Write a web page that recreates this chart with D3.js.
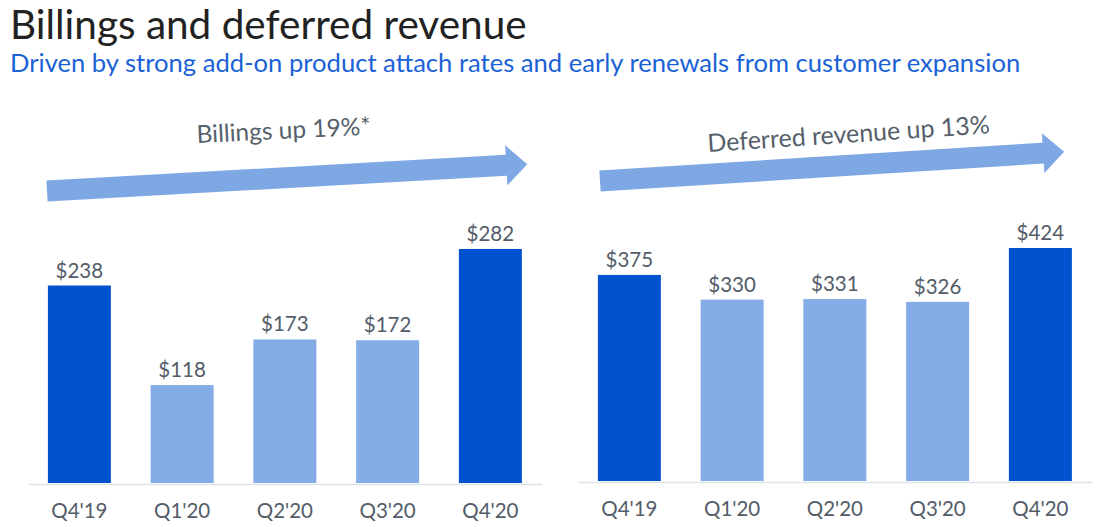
<!DOCTYPE html>
<html>
<head>
<meta charset="utf-8">
<script src="https://cdn.jsdelivr.net/npm/d3@7"></script>
<style>
  body { margin: 0; background: #fff; }
  text { font-family: Lato, "Open Sans", sans-serif; }
</style>
</head>
<body>
<script>
// data
const quarters = ["Q4'19", "Q1'20", "Q2'20", "Q3'20", "Q4'20"];
const billings = [238, 118, 173, 172, 282];
const deferredRevenue = [375, 330, 331, 326, 424];
const highlighted = ["Q4'19", "Q4'20"];

const W = 1100, H = 527;
const darkBlue = "#0052cf", lightBlue = "#84ace6", arrowBlue = "#7ea8e4";
const textGray = "#535c69";

const svg = d3.select("body").append("svg")
  .attr("width", W)
  .attr("height", H);

// heading
svg.append("text")
  .attr("x", 10).attr("y", 39)
  .attr("font-size", 40.5)
  .attr("fill", "#222")
  .text("Billings and deferred revenue");

svg.append("text")
  .attr("x", 10).attr("y", 72)
  .attr("font-size", 25.6)
  .attr("fill", "#1a62d6")
  .text("Driven by strong add-on product attach rates and early renewals from customer expansion");

const panels = [
  { values: billings, x0: 28, base: 483, top: 249,
    arrow: { x: 47, y: 191, len: 481, angle: -3.2 },
    label: { x: 197, y: 143, angle: -2.8, size: 24.5, text: "Billings up 19%*" } },
  { values: deferredRevenue, x0: 578, base: 481, top: 248,
    arrow: { x: 600, y: 181, len: 465, angle: -3.6 },
    label: { x: 708, y: 152, angle: -3.8, size: 25, text: "Deferred revenue up 13%" } }
];

panels.forEach(p => {
  const g = svg.append("g");

  const x = d3.scaleBand()
    .domain(quarters)
    .range([p.x0, p.x0 + 5 * 102.75])
    .paddingInner(0.387)
    .paddingOuter(0.1935);

  const y = d3.scaleLinear()
    .domain([0, d3.max(p.values)])
    .range([p.base, p.top]);

  // baseline + category labels
  const axis = g.append("g")
    .attr("transform", `translate(0,${p.base + 1})`)
    .call(d3.axisBottom(x).tickSize(0).tickPadding(19));
  axis.select(".domain").attr("stroke", "#dde2e8").attr("stroke-width", 1.5);
  axis.selectAll("text")
    .attr("font-size", 20.5)
    .attr("fill", textGray)
    .style("font-family", "Lato, sans-serif");

  const rows = quarters.map((q, i) => ({ q, v: p.values[i] }));

  g.selectAll("rect.bar")
    .data(rows)
    .join("rect")
    .attr("class", "bar")
    .attr("x", d => x(d.q))
    .attr("width", x.bandwidth())
    .attr("y", d => y(d.v))
    .attr("height", d => y(0) - y(d.v))
    .attr("fill", d => highlighted.includes(d.q) ? darkBlue : lightBlue);

  g.selectAll("text.val")
    .data(rows)
    .join("text")
    .attr("class", "val")
    .attr("x", d => x(d.q) + x.bandwidth() / 2)
    .attr("y", d => y(d.v) - 8)
    .attr("text-anchor", "middle")
    .attr("font-size", 20.5)
    .attr("fill", textGray)
    .text(d => "$" + d.v);

  // growth arrow, drawn along its own axis then tilted
  const a = p.arrow, sh = 10.5, hw = 20, hl = 21;
  g.append("path")
    .attr("transform", `translate(${a.x},${a.y}) rotate(${a.angle})`)
    .attr("d", `M0,${-sh} L${a.len - hl},${-sh} L${a.len - hl},${-hw} L${a.len},0
                L${a.len - hl},${hw} L${a.len - hl},${sh} L0,${sh} Z`)
    .attr("fill", arrowBlue);

  g.append("text")
    .attr("transform", `translate(${p.label.x},${p.label.y}) rotate(${p.label.angle})`)
    .attr("font-size", p.label.size)
    .attr("fill", "#575f6b")
    .text(p.label.text);
});
</script>
</body>
</html>
